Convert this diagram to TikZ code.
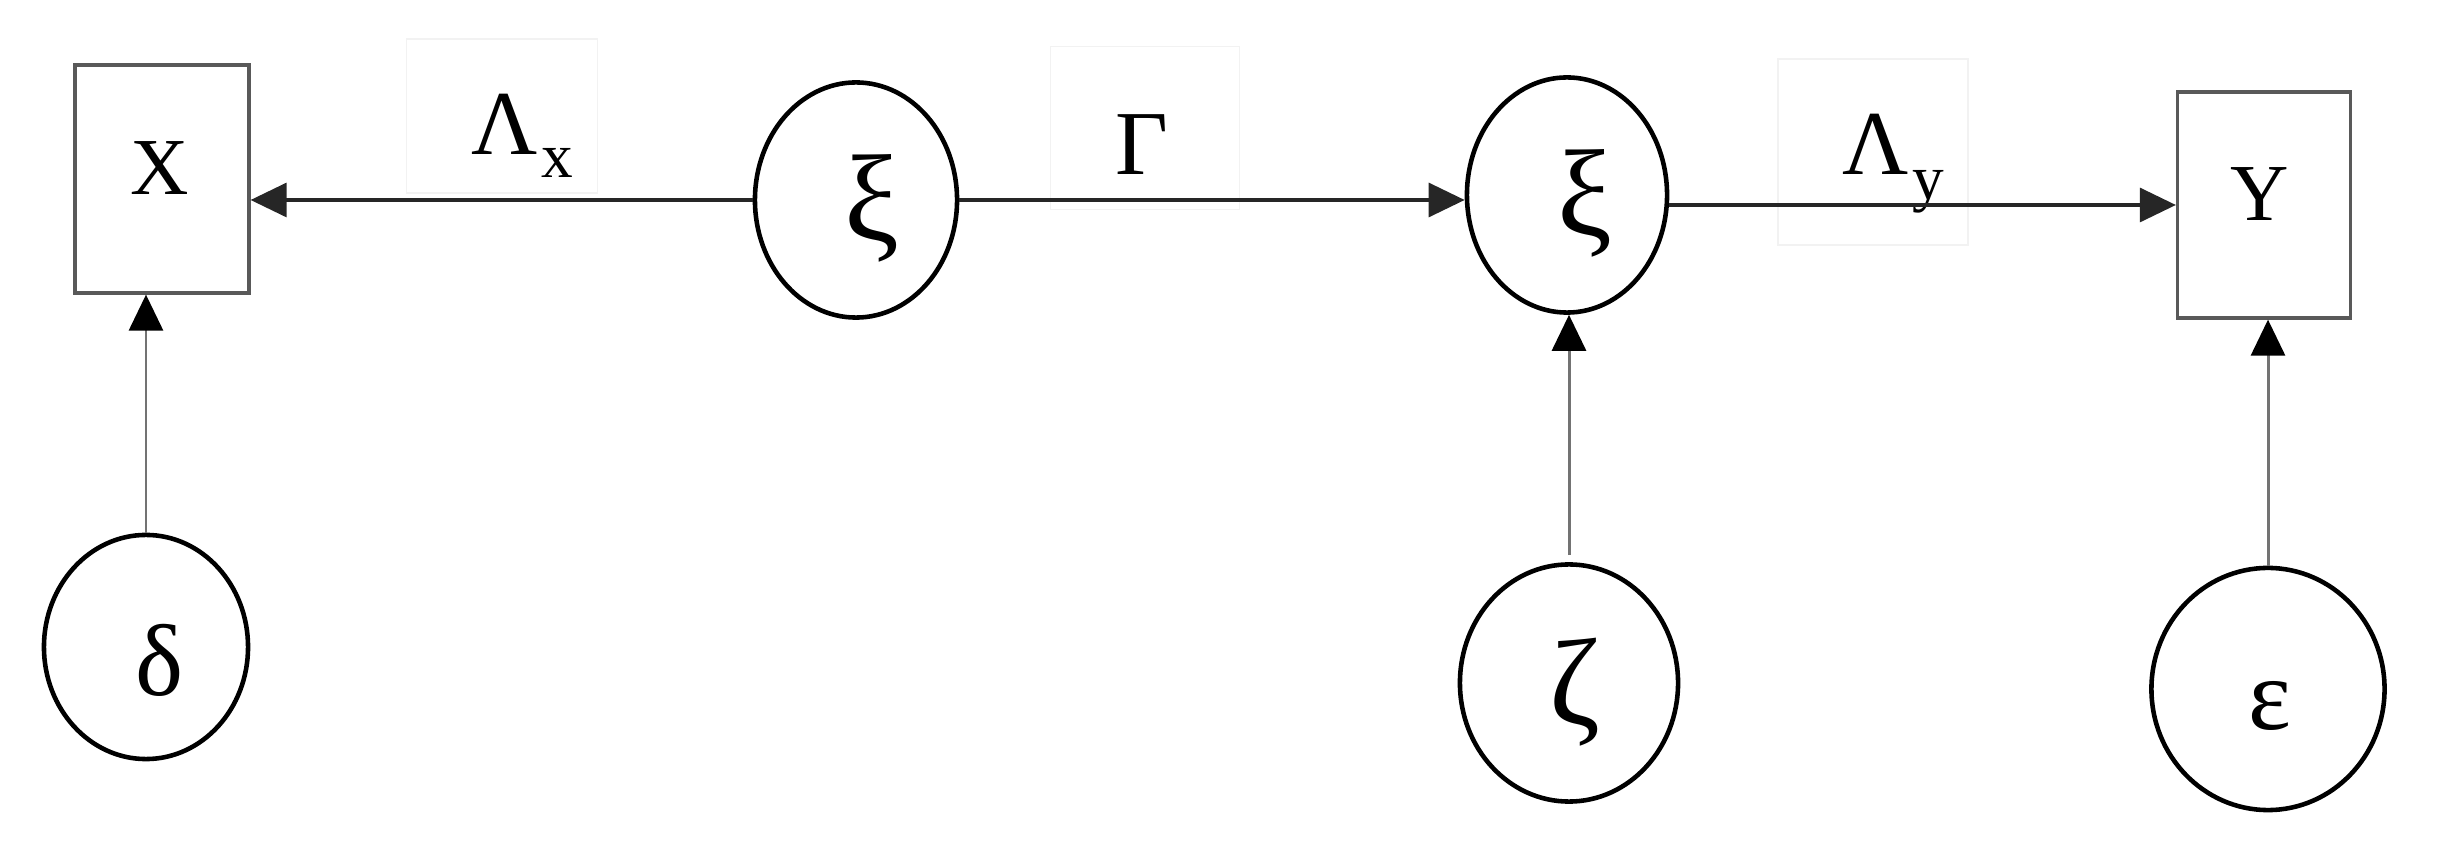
\documentclass[tikz,border=0pt]{standalone}
\usepackage{fontspec}
\setmainfont{Liberation Serif}
\usetikzlibrary{arrows.meta,shapes.geometric,calc}
\newcommand{\subsz}{\fontsize{18}{18}\selectfont}
\begin{document}
\begin{tikzpicture}[x=0.01cm,y=-0.01cm,
  lat/.style={ellipse, draw=black, line width=1.3pt, inner sep=0pt},
  obs/.style={rectangle, draw=black!65, line width=0.9pt, inner sep=0pt},
  obstxt/.style={inner sep=0pt, font=\fontsize{23}{26}\selectfont},
  gbig/.style={inner sep=0pt, font=\fontsize{35}{38}\selectfont},
  gsmall/.style={inner sep=0pt, font=\fontsize{29}{32}\selectfont},
  lblbox/.style={rectangle, draw=black!5, line width=0.4pt, inner sep=0pt},
  lbltxt/.style={inner sep=0pt, anchor=base west, font=\fontsize{26}{28}\selectfont},
  tip/.style={-{Triangle[length=0.36cm,width=0.34cm]}},
  arr/.style={tip, line width=0.9pt, draw=black!85},
  varr/.style={line width=0.85pt, draw=black!55, -{Triangle[length=0.36cm,width=0.34cm,fill=black,color=black]}}]
\useasboundingbox (0,0) rectangle (2441,852);
% faint label boxes
\node[lblbox, minimum width=1.91cm, minimum height=1.54cm] (lxbox) at (502,116) {};
\node[lblbox, minimum width=1.89cm, minimum height=1.63cm] (gbox) at (1145,128) {};
\node[lblbox, minimum width=1.90cm, minimum height=1.86cm] (lybox) at (1873,152) {};
% observed
\node[obs, minimum width=1.74cm, minimum height=2.28cm] (X) at (162,179) {};
\node[obs, minimum width=1.73cm, minimum height=2.26cm] (Y) at (2264,205) {};
\node[obstxt] (Xt) at (160,168) {X};
\node[obstxt] (Yt) at (2260,194) {Y};
% latent
\node[lat, minimum width=2.02cm, minimum height=2.35cm] (xi1) at (856,200) {};
\node[lat, minimum width=2.0cm, minimum height=2.35cm] (xi2) at (1567,195) {};
\node[lat, minimum width=2.04cm, minimum height=2.24cm] (delta) at (146,647) {};
\node[lat, minimum width=2.18cm, minimum height=2.37cm] (zeta) at (1569,683) {};
\node[lat, minimum width=2.33cm, minimum height=2.42cm] (eps) at (2268,689) {};
\node[gbig] (xi1t) at (872,208) {ξ};
\node[gbig] (xi2t) at (1585,203) {ξ};
\node[gsmall] (deltat) at (160,660) {δ};
\node[gbig] (zetat) at (1575,692) {ζ};
\node[gsmall] (epst) at (2270,706) {ε};
% labels
\node[lbltxt] (lx) at (471,155) {Λ\kern1pt\raisebox{-6.5pt}{\subsz x}};
\node[lbltxt] (g) at (1115,175) {Γ};
\node[lbltxt] (ly) at (1842,175) {Λ\kern1pt\raisebox{-7pt}{\subsz y}};
% connectors
\draw[arr] (xi1.west) -- (xi1.west -| X.east);
\draw[arr] (xi1.east) -- (xi1.east -| xi2.west);
\draw[arr] (xi2.east |- Y.west) -- (Y.west);
\draw[varr] (delta.north) -- (delta.north |- X.south);
\draw[varr, shorten <=0.07cm] (zeta.north) -- (zeta.north |- xi2.south);
\draw[varr] (eps.north) -- (eps.north |- Y.south);
\end{tikzpicture}
\end{document}
